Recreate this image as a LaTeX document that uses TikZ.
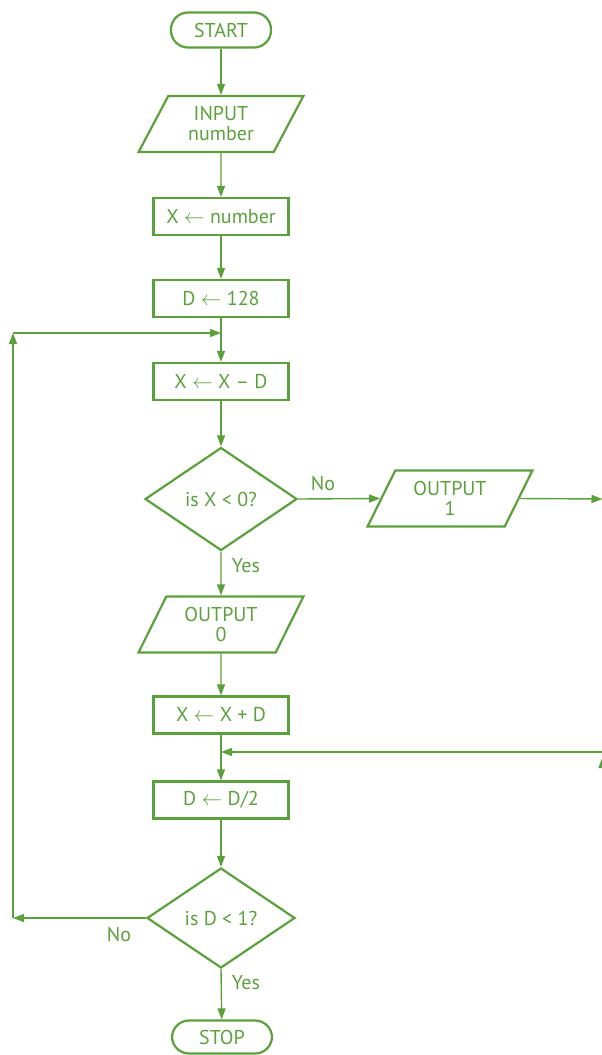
\documentclass[tikz,border=0pt]{standalone}
\usepackage{fontspec}
\setmainfont{PT Sans}
\usetikzlibrary{shapes.geometric,arrows.meta}
\definecolor{fgreen}{RGB}{92,160,62}
\tikzset{
  box/.style={draw=fgreen, line width=2.2pt, text=fgreen, minimum width=135pt, minimum height=37pt, inner sep=2pt, font=\fontsize{20}{22}\selectfont},
  term/.style={box, rounded corners=17pt, minimum width=100pt, minimum height=35pt},
  io/.style={box, trapezium, trapezium left angle=63, trapezium right angle=117, trapezium stretches=true, minimum width=165pt, minimum height=56pt, align=center, font=\fontsize{20}{20}\selectfont},
  decision/.style={box, diamond, minimum width=152pt, minimum height=103pt, inner sep=0pt},
  conn/.style={draw=fgreen, line width=1.4pt, -{Triangle[length=11pt,width=8pt]}},
  line/.style={draw=fgreen, line width=1.4pt},
  lbl/.style={text=fgreen, font=\fontsize{20}{22}\selectfont, inner sep=0pt}
}
\begin{document}
\begin{tikzpicture}[x=1pt,y=-1pt]
\useasboundingbox (0,0) rectangle (602,1055);
\node[term] (start) at (221,30) {START};
\node[io] (in) at (221,124) {INPUT\\number};
\node[box] (x1) at (221,216.5) {X $\leftarrow$ number};
\node[box] (d1) at (221,298.5) {D $\leftarrow$ 128};
\node[box] (xs) at (221,381.5) {X $\leftarrow$ X \textendash{} D};
\node[decision] (dx) at (221,499) {is X < 0?};
\node[io] (o1) at (450,498.5) {OUTPUT\\1};
\node[io] (o0) at (221,624.5) {OUTPUT\\0};
\node[box] (xa) at (221,715) {X $\leftarrow$ X + D};
\node[box] (dh) at (221,800) {D $\leftarrow$ D/2};
\node[decision, minimum width=148pt, minimum height=100pt] (dd) at (221,918) {is D < 1?};
\node[term, minimum height=33pt] (stop) at (222,1037) {STOP};
\coordinate (m1) at (221,333);
\coordinate (l1) at (13,918);
\coordinate (l2) at (13,333);
\coordinate (r1) at (602.5,499);
\coordinate (r2) at (602.5,752);
\coordinate (m2) at (221,752);
\draw[conn] (start) -- (in);
\draw[conn] (in) -- (x1);
\draw[conn] (x1) -- (d1);
\draw[conn] (d1) -- (xs);
\draw[conn] (xs) -- (dx);
\draw[conn] (dx.east) -- (o1.west);
\draw[conn] (o1.east) -- (r1);
\draw[line] (r1) -- (r2);
\draw[conn] ([yshift=-14pt]r2) -- ([yshift=-5pt]r2);
\draw[conn] (r2) -- (m2);
\draw[conn] (dx.south) -- (o0);
\draw[conn] (o0) -- (xa);
\draw[conn] (xa) -- (dh);
\draw[conn] (dh) -- (dd);
\draw[conn] (dd.south) -- (stop);
\draw[conn] (dd.west) -- (l1);
\draw[conn] (l1) -- (l2);
\draw[conn] (l2) -- (m1);
\node[lbl] (no1) at (323,484) {No};
\node[lbl] (yes1) at (246,566) {Yes};
\node[lbl] (no2) at (119,934) {No};
\node[lbl] (yes2) at (246,983) {Yes};
\end{tikzpicture}
\end{document}
